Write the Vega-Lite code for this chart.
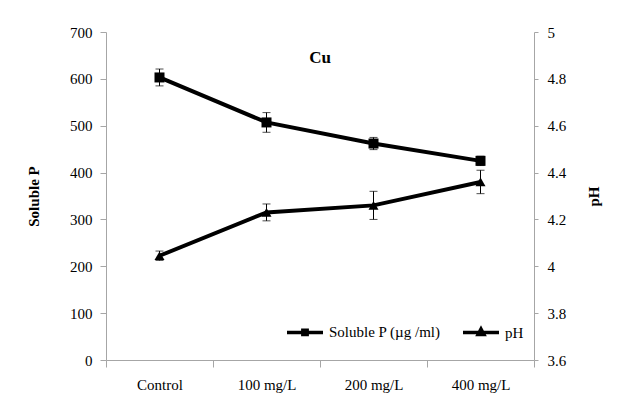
{
  "$schema": "https://vega.github.io/schema/vega-lite/v6.json",
  "width": 428,
  "height": 328,
  "autosize": {"type": "none"},
  "padding": {"left": 106, "top": 32, "right": 87, "bottom": 57},
  "background": "white",
  "config": {
    "font": "Liberation Serif",
    "view": {"stroke": null},
    "axis": {"grid": false, "labelFont": "Liberation Serif", "labelFontSize": 15, "labelColor": "#000", "titleFont": "Liberation Serif", "titleFontSize": 15, "titleFontWeight": "bold", "titleColor": "#000", "domainColor": "#a6a6a6", "tickColor": "#a6a6a6"}
  },
  "title": {"text": "Cu", "font": "Liberation Serif", "fontSize": 17, "fontWeight": "bold", "color": "#000", "anchor": "middle", "offset": -42},
  "datasets": {
    "p": [
      {"cat": "Control", "series": "Soluble P (µg /ml)", "value": 603, "lo": 585, "hi": 621},
      {"cat": "100 mg/L", "series": "Soluble P (µg /ml)", "value": 507, "lo": 486, "hi": 528},
      {"cat": "200 mg/L", "series": "Soluble P (µg /ml)", "value": 462, "lo": 449, "hi": 475},
      {"cat": "400 mg/L", "series": "Soluble P (µg /ml)", "value": 425, "lo": 415, "hi": 435}
    ],
    "ph": [
      {"cat": "Control", "series": "pH", "value": 4.045, "lo": 4.025, "hi": 4.065},
      {"cat": "100 mg/L", "series": "pH", "value": 4.23, "lo": 4.194, "hi": 4.266},
      {"cat": "200 mg/L", "series": "pH", "value": 4.26, "lo": 4.2, "hi": 4.32},
      {"cat": "400 mg/L", "series": "pH", "value": 4.36, "lo": 4.31, "hi": 4.41}
    ]
  },
  "encoding": {
    "x": {"field": "cat", "type": "nominal", "sort": ["Control", "100 mg/L", "200 mg/L", "400 mg/L"], "scale": {"paddingInner": 0, "paddingOuter": 0}, "axis": {"title": null, "labelAngle": 0, "tickBand": "extent", "tickSize": 7, "labelPadding": 10}}
  },
  "layer": [
    {
      "data": {"name": "p"},
      "encoding": {"y": {"field": "value", "type": "quantitative", "scale": {"domain": [0, 700], "nice": false}, "axis": {"orient": "left", "title": "Soluble P", "values": [0, 100, 200, 300, 400, 500, 600, 700], "tickSize": 6, "labelPadding": 8, "titlePadding": 28}}},
      "layer": [
        {"mark": {"type": "rule", "color": "#000", "strokeWidth": 1}, "encoding": {"y": {"field": "lo", "type": "quantitative"}, "y2": {"field": "hi"}}},
        {"mark": {"type": "tick", "color": "#000", "thickness": 1, "size": 8}, "encoding": {"y": {"field": "lo", "type": "quantitative"}}},
        {"mark": {"type": "tick", "color": "#000", "thickness": 1, "size": 8}, "encoding": {"y": {"field": "hi", "type": "quantitative"}}},
        {"mark": {"type": "line", "color": "#000", "strokeWidth": 4}, "encoding": {}},
        {"mark": {"type": "point", "filled": true, "color": "#000", "opacity": 1, "size": 100, "shape": "square"}},
        {"mark": {"type": "point", "filled": false, "color": "#000", "strokeWidth": 3.5, "opacity": 0, "size": 1296}, "encoding": {"shape": {"field": "series", "type": "nominal", "scale": {"domain": ["Soluble P (µg /ml)", "pH"], "range": ["M-1,0H1M-0.12,-0.12H0.12V0.12H-0.12Z", "M-1,0H1M0,-0.2L0.16,0.1H-0.16Z"]}, "legend": {"orient": "none", "legendX": 179, "legendY": 280, "direction": "horizontal", "title": null, "symbolSize": 1296, "symbolOpacity": 1, "symbolStrokeWidth": 3.5, "symbolStrokeColor": "#000", "symbolFillColor": "#000", "labelFont": "Liberation Serif", "labelFontSize": 15, "labelColor": "#000", "labelOffset": 4, "columnPadding": 15}}}}
      ]
    },
    {
      "data": {"name": "ph"},
      "encoding": {"y": {"field": "value", "type": "quantitative", "scale": {"domain": [3.6, 5], "nice": false}, "axis": {"orient": "right", "title": "pH", "titleAngle": 270, "values": [3.6, 3.8, 4, 4.2, 4.4, 4.6, 4.8, 5], "format": ".1~f", "tickSize": 4, "labelPadding": 9, "titlePadding": 36}}},
      "layer": [
        {"mark": {"type": "rule", "color": "#000", "strokeWidth": 1}, "encoding": {"y": {"field": "lo", "type": "quantitative"}, "y2": {"field": "hi"}}},
        {"mark": {"type": "tick", "color": "#000", "thickness": 1, "size": 8}, "encoding": {"y": {"field": "lo", "type": "quantitative"}}},
        {"mark": {"type": "tick", "color": "#000", "thickness": 1, "size": 8}, "encoding": {"y": {"field": "hi", "type": "quantitative"}}},
        {"mark": {"type": "line", "color": "#000", "strokeWidth": 4}, "encoding": {}},
        {"mark": {"type": "point", "filled": true, "color": "#000", "opacity": 1, "size": 100, "shape": "triangle-up"}},
        {"mark": {"type": "point", "filled": false, "color": "#000", "strokeWidth": 3.5, "opacity": 0, "size": 1296}, "encoding": {"shape": {"field": "series", "type": "nominal", "scale": {"domain": ["Soluble P (µg /ml)", "pH"], "range": ["M-1,0H1M-0.12,-0.12H0.12V0.12H-0.12Z", "M-1,0H1M0,-0.2L0.16,0.1H-0.16Z"]}}}}
      ]
    }
  ],
  "resolve": {"scale": {"y": "independent"}}
}
